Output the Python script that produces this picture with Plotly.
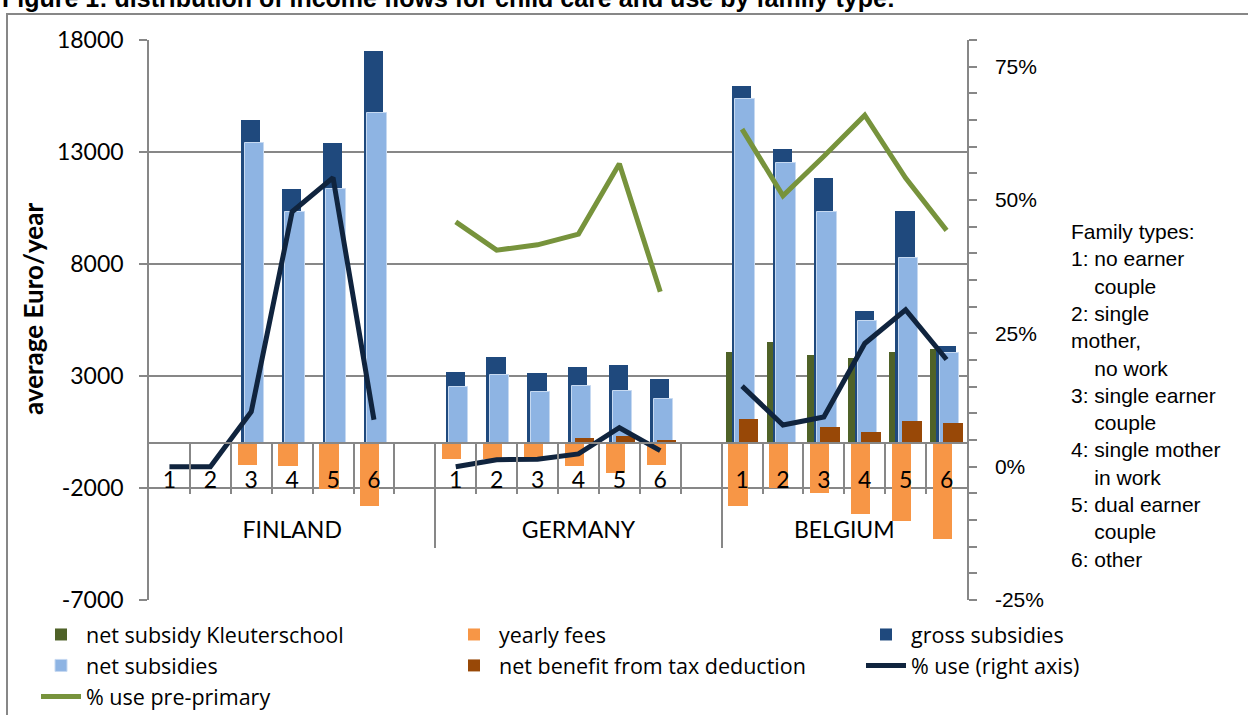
import plotly.graph_objects as go

# ---------------- data ----------------
COUNTRIES = ["FINLAND", "GERMANY", "BELGIUM"]
FAMILY_TYPES = ["1", "2", "3", "4", "5", "6"]

# Euro/year, per country, family types 1..6
kleuterschool_fi = [None, None, None, None, None, None]
kleuterschool_de = [None, None, None, None, None, None]
kleuterschool_be = [4085, 4530, 3920, 3790, 4085, 4190]

fees_fi = [None, None, -970, -1000, -2045, -2790]
fees_de = [-690, -690, -600, -1000, -1345, -960]
fees_be = [-2805, -1985, -2240, -3160, -3460, -4290]

gross_fi = [None, None, 14430, 11335, 13390, 17520]
gross_de = [3190, 3835, 3150, 3400, 3490, 2865]
gross_be = [15945, 13120, 11840, 5900, 10365, 4340]

net_fi = [None, None, 13415, 10320, 11335, 14740]
net_de = [2510, 3030, 2300, 2555, 2315, 1975]
net_be = [15365, 12510, 10320, 5455, 8255, 4010]

tax_fi = [None, None, None, None, None, None]
tax_de = [None, None, None, 220, 310, 130]
tax_be = [1095, None, 740, 485, 1005, 900]

# percentages (right axis)
use_fi = [0.0, 0.0, 10.3, 47.8, 54.2, 8.8]
use_de = [0.0, 1.3, 1.4, 2.4, 7.3, 3.0]
use_be = [15.1, 7.8, 9.3, 23.1, 29.4, 20.1]

pre_fi = [None, None, None, None, None, None]
pre_de = [45.9, 40.6, 41.6, 43.6, 56.8, 32.8]
pre_be = [63.3, 50.8, 58.2, 65.9, 54.1, 44.3]

LEFT_TICKS = [-7000, -2000, 3000, 8000, 13000, 18000]
LEFT_TICKTEXT = ["-7000", "-2000", "3000", "8000", "13000", "18000"]
RIGHT_TICKS = [-0.25, 0.0, 0.25, 0.50, 0.75]
RIGHT_TICKTEXT = ["-25%", "0%", "25%", "50%", "75%"]
Y_TITLE = "average Euro/year"

FAMILY_NOTE = ["Family types:", "1: no earner", "    couple", "2: single", "mother,",
               "    no work", "3: single earner", "    couple", "4: single mother",
               "    in work", "5: dual earner", "    couple", "6: other"]

TITLE = "Figure 1: distribution of income flows for child care and use by family type:"

# -------------- slots (each country: 6 types + 1 blank, except the last) --------------
def join(fi, de, be):
    return list(fi) + [None] + list(de) + [None] + list(be)

n_slots = len(FAMILY_TYPES) * 3 + 2
slots = list(range(n_slots))
center_ticks, center_text, group_centers, dividers = [], [], [], []
start = 0
for ci, c in enumerate(COUNTRIES):
    for k, ft in enumerate(FAMILY_TYPES):
        center_ticks.append(start + k)
        center_text.append(ft)
    width = len(FAMILY_TYPES) + (1 if ci < len(COUNTRIES) - 1 else 0)
    group_centers.append(start - 0.5 + width / 2)
    if ci < len(COUNTRIES) - 1:
        dividers.append(start + width - 0.5)
    start += width
boundaries = [i + 0.5 for i in range(n_slots - 1)]

GRID = "#878787"
FONT_C = "Lato, Carlito, Calibri, sans-serif"
FONT_L = "Open Sans, Lato, sans-serif"
FONT_A = "Liberation Sans, Arial, sans-serif"

fig = go.Figure()

def bar(name, y, color, offset, width, line=None, legend="legend"):
    fig.add_trace(go.Bar(
        x=slots, y=y, name=name, marker_color=color,
        marker_line=dict(width=1 if line else 0, color=line or color),
        offset=offset, width=width, legend=legend, xaxis="x", yaxis="y",
        hoverinfo="skip"))

bar("net subsidy Kleuterschool", join(kleuterschool_fi, kleuterschool_de, kleuterschool_be),
    "#4F6228", -0.40, 0.17, legend="legend")
bar("yearly fees", join(fees_fi, fees_de, fees_be), "#F79646", -0.335, 0.47, legend="legend2")
bar("gross subsidies", join(gross_fi, gross_de, gross_be), "#1F497D", -0.25, 0.47, legend="legend3")
bar("net subsidies", join(net_fi, net_de, net_be), "#8EB4E3", -0.165, 0.475,
    line="#C6D9F1", legend="legend")
bar("net benefit from tax deduction", join(tax_fi, tax_de, tax_be), "#984807", -0.085, 0.475,
    legend="legend2")

fig.add_trace(go.Scatter(
    x=slots, y=[None if v is None else v / 100 for v in join(use_fi, use_de, use_be)],
    name="% use (right axis)", mode="lines", line=dict(color="#10243E", width=5),
    yaxis="y2", xaxis="x", legend="legend3", connectgaps=False, hoverinfo="skip"))
fig.add_trace(go.Scatter(
    x=slots, y=[None if v is None else v / 100 for v in join(pre_fi, pre_de, pre_be)],
    name="% use pre-primary", mode="lines", line=dict(color="#77933C", width=5),
    yaxis="y2", xaxis="x", legend="legend", connectgaps=False, hoverinfo="skip"))

W, H = 1248, 715
L, R, T, B = 149, 281, 40, 115
pw, ph = W - L - R, H - T - B
ymin, ymax = -7000, 18000
zero_pos = (0 - ymin) / (ymax - ymin)
xr = [-0.5, n_slots - 0.5]

# empty helper traces so that the overlaid label axes are drawn
for ax in ["x2", "x3", "x4"]:
    fig.add_trace(go.Scatter(x=xr, y=[None, None], xaxis=ax, yaxis="y", mode="lines",
                             showlegend=False, hoverinfo="skip"))

def px_x(p):
    return (p - L) / pw

def px_y(p):
    return (H - B - p) / ph

common_x = dict(range=xr, showgrid=False, zeroline=False, anchor="free",
                position=zero_pos, fixedrange=True, type="linear")

legend_common = dict(xref="container", yref="container", xanchor="left", yanchor="top",
                     orientation="v", font=dict(family=FONT_L, size=21.5),
                     bgcolor="rgba(0,0,0,0)", tracegroupgap=0, itemwidth=40)

fig.update_layout(
    width=W, height=H, autosize=False,
    margin=dict(l=L, r=R, t=T, b=B, autoexpand=False),
    paper_bgcolor="white", plot_bgcolor="white",
    barmode="overlay", bargap=0,
    font=dict(family=FONT_C, color="black", size=20),
    xaxis=dict(**common_x, showline=True, linecolor=GRID, linewidth=1.5,
               tickmode="array", tickvals=boundaries, ticktext=[""] * len(boundaries),
               ticks="outside", ticklen=50, tickcolor=GRID, tickwidth=1.5,
               showticklabels=False),
    xaxis2=dict(**common_x, overlaying="x", showline=False, tickmode="array",
                tickvals=center_ticks, ticktext=center_text, ticks="outside",
                ticklen=16, tickcolor="rgba(0,0,0,0)",
                tickfont=dict(family=FONT_C, size=23)),
    xaxis3=dict(**common_x, overlaying="x", showline=False, tickmode="array",
                tickvals=group_centers, ticktext=COUNTRIES, ticks="outside",
                ticklen=66, tickcolor="rgba(0,0,0,0)",
                tickfont=dict(family=FONT_C, size=23)),
    xaxis4=dict(**common_x, overlaying="x", showline=False, tickmode="array",
                tickvals=dividers, ticktext=["", ""], ticks="outside", ticklen=104,
                tickcolor=GRID, tickwidth=1.5, showticklabels=False),
    yaxis=dict(range=[ymin, ymax], tickmode="array", tickvals=LEFT_TICKS,
               ticktext=LEFT_TICKTEXT, showgrid=True, gridcolor=GRID, gridwidth=1.5,
               zeroline=False, showline=True, linecolor=GRID, linewidth=1.5,
               ticks="outside", ticklen=8, tickcolor=GRID, tickwidth=1.5,
               ticklabelstandoff=11, tickfont=dict(family=FONT_C, size=23),
               fixedrange=True),
    yaxis2=dict(range=[-0.25, 0.80], overlaying="y", side="right", anchor="x",
                tickmode="array", tickvals=RIGHT_TICKS, ticktext=RIGHT_TICKTEXT,
                showgrid=False, zeroline=False, showline=True, linecolor=GRID,
                linewidth=1.5, ticks="outside", ticklen=8, tickcolor=GRID, tickwidth=1.5,
                minor=dict(dtick=0.05, ticks="outside", ticklen=8, tickcolor=GRID,
                           tickwidth=1.5, showgrid=False),
                ticklabelstandoff=14, tickfont=dict(family=FONT_A, size=21),
                fixedrange=True),
    legend=dict(**legend_common, x=36 / W, y=1 - 614 / H),
    legend2=dict(**legend_common, x=449 / W, y=1 - 614 / H),
    legend3=dict(**legend_common, x=861 / W, y=1 - 614 / H),
    showlegend=True,
)

# outer frame of the figure
fig.add_shape(type="rect", xref="paper", yref="paper",
              x0=px_x(7), x1=px_x(W + 20), y0=px_y(14), y1=px_y(H + 20),
              line=dict(color=GRID, width=2), fillcolor="rgba(0,0,0,0)", layer="below")

# left axis title
fig.add_annotation(text="<b>" + Y_TITLE + "</b>", xref="paper", yref="paper",
                   x=px_x(33), y=px_y(309), xanchor="center", yanchor="middle",
                   textangle=-90, showarrow=False,
                   font=dict(family=FONT_C, size=26, weight="bold", color="black"))

# title (partly cut off at the top, as in the source)
fig.add_annotation(text="<b>" + TITLE + "</b>", xref="paper", yref="paper",
                   x=px_x(0), y=px_y(-2), xanchor="left", yanchor="middle",
                   showarrow=False, font=dict(family=FONT_A, size=25, color="black"))

# family-type note
fig.add_annotation(text="<br>".join(s.replace("    ", "&nbsp;&nbsp;&nbsp;&nbsp;") for s in FAMILY_NOTE),
                   xref="paper", yref="paper", x=px_x(1069), y=px_y(218),
                   xanchor="left", yanchor="top", align="left", showarrow=False,
                   font=dict(family=FONT_A, size=21, color="black"))

fig.write_html("out.html")
